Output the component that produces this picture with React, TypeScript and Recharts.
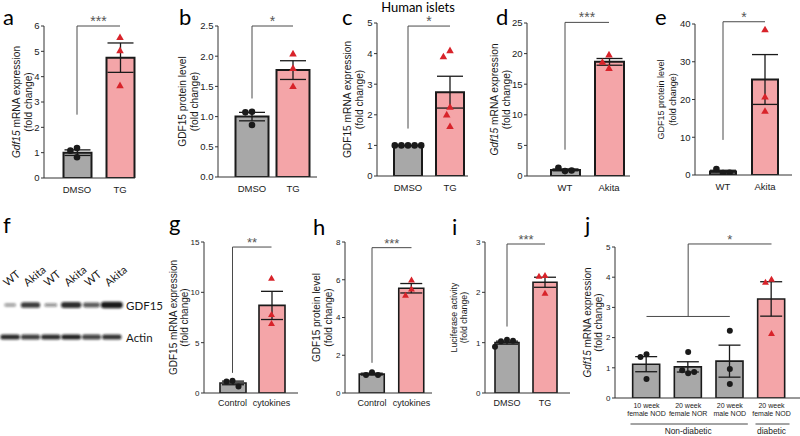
import React from 'react';
import {
  ComposedChart,
  ScatterChart,
  Bar,
  Cell,
  Scatter,
  XAxis,
  YAxis,
  ErrorBar,
  ReferenceLine,
} from 'recharts';

const ARIAL = '"Liberation Sans", Arial, sans-serif';
const CALIBRI = 'Lato, "Liberation Sans", sans-serif';
const GREY = '#a8a8a8';
const PINK = '#f4a5a8';
const RED = '#d8232a';
const INK = '#1a1a1a';

// ---------- data ----------
const aCats = ['DMSO', 'TG'];
const aMeans = [1.0, 4.75];
const aSems = [0.11, 0.58];
const aPoints = [[1.18, 1.08, 0.82], [5.55, 5.03, 3.65]];
const aTicks = [0, 1, 2, 3, 4, 5, 6];

const bCats = ['DMSO', 'TG'];
const bMeans = [1.0, 1.77];
const bSems = [0.07, 0.155];
const bPoints = [[1.08, 1.07, 0.86], [2.04, 1.8, 1.5]];
const bTicks = [0, 0.5, 1, 1.5, 2, 2.5];

const cCats = ['DMSO', 'TG'];
const cMeans = [1.0, 2.74];
const cSems = [0, 0.52];
const cPoints = [[1, 1, 1, 1, 1], [4.1, 3.9, 2.25, 2.0, 1.62]];
const cTicks = [0, 1, 2, 3, 4, 5];

const dCats = ['WT', 'Akita'];
const dMeans = [1.0, 18.65];
const dSems = [0.15, 0.55];
const dPoints = [[0.8, 1.35, 0.9], [19.8, 18.6, 17.6]];
const dTicks = [0, 5, 10, 15, 20, 25];

const eCats = ['WT', 'Akita'];
const eMeans = [0.9, 25.3];
const eSems = [0.35, 6.6];
const ePoints = [[0.5, 1.6, 0.6], [38.5, 20.7, 16.9]];
const eTicks = [0, 10, 20, 30, 40];

const fLanes = ['WT', 'Akita', 'WT', 'Akita', 'WT', 'Akita'];
const fBands = ['GDF15', 'Actin'];
const fGdf15 = [0.22, 0.8, 0.3, 0.88, 0.62, 1.0];
const fActin = [0.9, 0.78, 0.88, 0.95, 0.75, 0.85];

const gCats = ['Control', 'cytokines'];
const gMeans = [1.0, 8.7];
const gSems = [0.18, 1.4];
const gPoints = [[1.22, 1.15, 0.65], [11.4, 7.8, 6.9]];
const gTicks = [0, 5, 10, 15];

const hCats = ['Control', 'cytokines'];
const hMeans = [1.0, 5.55];
const hSems = [0.05, 0.25];
const hPoints = [[1.1, 0.95, 0.95], [5.98, 5.5, 5.18]];
const hTicks = [0, 2, 4, 6, 8];

const iCats = ['DMSO', 'TG'];
const iMeans = [1.0, 2.2];
const iSems = [0.03, 0.1];
const iPoints = [[1.06, 1.03, 1.04, 0.92], [2.33, 2.32, 1.98]];
const iTicks = [0, 1, 2, 3];

const jCats = ['10 week female NOD', '20 week female NOR', '20 week male NOD', '20 week female NOD'];
const jGroups = ['Non-diabetic', 'Non-diabetic', 'Non-diabetic', 'diabetic'];
const jMeans = [1.12, 1.03, 1.22, 3.28];
const jSems = [0.25, 0.17, 0.53, 0.57];
const jPoints = [[1.45, 1.36, 0.63], [1.52, 0.82, 0.92, 0.86], [2.23, 0.96, 0.46], [3.93, 3.83, 2.13]];
const jTicks = [0, 1, 2, 3, 4, 5];

// significance: bracket height, drop of the left leg, categories joined
const aSig = { text: '***', y: 6.0, drop: 2.5, from: 0, to: 1 };
const bSig = { text: '*', y: 2.5, drop: 1.3, from: 0, to: 1 };
const cSig = { text: '*', y: 4.9, drop: 1.55, from: 0, to: 1 };
const dSig = { text: '***', y: 25.1, drop: 4.3, from: 0, to: 1 };
const eSig = { text: '*', y: 40.6, drop: 9.3, from: 0, to: 1 };
const gSig = { text: '**', y: 14.5, drop: 2.0, from: 0, to: 1 };
const hSig = { text: '***', y: 7.7, drop: 1.6, from: 0, to: 1 };
const iSig = { text: '***', y: 2.96, drop: 1.32, from: 0, to: 1 };
const jSig = { text: '*', y: 5.1, drop: 2.7, from: 1, to: 3, base: [0, 2] };

// ---------- helpers ----------
type Sig = { text: string; y: number; drop: number; from: number; to: number; base?: number[] };

type Layout = {
  axisX: number;
  yTop: number;
  yBottom: number;
  xEnd: number;
  centers: number[];
  barW: number;
  top: number;
  xh: number;
  labelOff: number[];
  labelFs: number;
  tickFs: number;
  catFs: number;
  catDy: number;
  r: number;
  stroke: number;
  starFs: number;
  cap: number;
};

// beeswarm-like horizontal offsets so markers do not sit on each other
function spread(vals: number[], ppu: number, r: number): number[] {
  const placed: { x: number; y: number }[] = [];
  const step = r;
  return vals.map((v) => {
    const y = v * ppu;
    let x = 0;
    for (const k of [0, -1, 1, -2, 2, -3, 3, -4, 4]) {
      const c = k * step;
      const hit = placed.some((p) => ((p.x - c) / (2 * r)) ** 2 + ((p.y - y) / (2.6 * r)) ** 2 < 1);
      if (!hit) {
        x = c;
        break;
      }
    }
    placed.push({ x, y });
    return x;
  });
}

const Marker = (props: any) => {
  const { cx, cy, payload, k, r } = props;
  if (!Number.isFinite(cx) || !Number.isFinite(cy) || payload['p' + k] === undefined) return <g />;
  const x = cx + (payload['o' + k] || 0);
  if (payload.mk === 'tri') {
    const pts = `${x},${cy - r * 1.2} ${x - r * 1.15},${cy + r * 0.8} ${x + r * 1.15},${cy + r * 0.8}`;
    return <polygon points={pts} fill={RED} />;
  }
  return <circle cx={x} cy={cy} r={r} fill={INK} />;
};

interface PanelProps {
  cats: string[];
  means: number[];
  sems: number[];
  points: number[][];
  ticks: number[];
  markers: string[];
  sig: Sig;
  ylabel: string[];
  italic?: string;
  L: Layout;
  decimals?: number;
  groups?: string[];
}

function BarPanel({ cats, means, sems, points, ticks, markers, sig, ylabel, italic, L, decimals = 0, groups }: PanelProps) {
  const YW = 60;
  const left = L.axisX - YW;
  const width = L.xEnd - left + 6;
  const height = L.yBottom - L.top + L.xh;
  const yMax = ticks[ticks.length - 1];
  const ppu = (L.yBottom - L.yTop) / yMax;
  const n = cats.length;
  const sp = (L.centers[n - 1] - L.centers[0]) / (n - 1);
  const padL = L.centers[0] - sp / 2 - L.axisX;
  const padR = L.xEnd - (L.centers[n - 1] + sp / 2);

  const rows = cats.map((c, i) => {
    const offs = spread(points[i], ppu, L.r);
    const row: any = { name: c, mean: means[i], sem: sems[i], mk: markers[i] };
    points[i].forEach((v, k) => {
      row['p' + k] = v;
      row['o' + k] = offs[k];
    });
    return row;
  });
  const maxPts = Math.max(...points.map((p) => p.length));
  const midY = (L.yTop + L.yBottom) / 2 - L.top;

  const catTick = (p: any) => {
    const { x, y, payload, index } = p;
    if (!groups) {
      return (
        <text x={x} y={y + L.catDy} textAnchor="middle" fontSize={L.catFs} fontFamily={ARIAL} fill={INK}>
          {payload.value}
        </text>
      );
    }
    const words = String(payload.value).split(' ');
    const g = groups[index];
    const first = groups.indexOf(g);
    const last = groups.lastIndexOf(g);
    const mid = (first + last) / 2;
    return (
      <g>
        <text x={x} y={y + 10} textAnchor="middle" fontSize={L.catFs} fontFamily={ARIAL} fill={INK}>
          {words.slice(0, 2).join(' ')}
        </text>
        <text x={x} y={y + 18} textAnchor="middle" fontSize={L.catFs} fontFamily={ARIAL} fill={INK}>
          {words.slice(2).join(' ')}
        </text>
        {index === first && (
          <line x1={x - 16} x2={x + (last - first) * sp + 18} y1={y + 26} y2={y + 26} stroke="#333" strokeWidth={0.9} />
        )}
        {index === Math.floor(mid) ? (
          <text x={x + (mid - index) * sp} y={y + 36} textAnchor="middle" fontSize={8.4} fontFamily={ARIAL} fill={INK}>
            {g}
          </text>
        ) : null}
      </g>
    );
  };

  const seg = (x1: number, y1: number, x2: number, y2: number, key: string, label?: any) => (
    <ReferenceLine
      key={key}
      segment={[
        { x: cats[x1], y: y1 },
        { x: cats[x2], y: y2 },
      ]}
      stroke="#4a4a4a"
      strokeWidth={1}
      ifOverflow="visible"
      label={label}
    />
  );

  return (
    <div style={{ position: 'absolute', left, top: L.top, width, height }}>
      <ComposedChart
        width={width}
        height={height}
        data={rows}
        margin={{ top: L.yTop - L.top, right: 6, bottom: 0, left: 0 }}
      >
        <XAxis
          dataKey="name"
          padding={{ left: padL, right: padR }}
          tickLine={false}
          tickSize={0}
          tickMargin={0}
          axisLine={{ stroke: '#333', strokeWidth: 1 }}
          height={L.xh}
          interval={0}
          tick={catTick}
        />
        <YAxis
          width={YW}
          domain={[0, yMax]}
          ticks={ticks}
          allowDataOverflow
          tickSize={3}
          tickMargin={1.5}
          axisLine={{ stroke: '#333', strokeWidth: 1 }}
          tickLine={{ stroke: '#333' }}
          tick={{ fontSize: L.tickFs, fill: INK, fontFamily: ARIAL }}
          tickFormatter={(v: number) => v.toFixed(decimals)}
        />
        <Bar dataKey="mean" barSize={L.barW} stroke={INK} strokeWidth={L.stroke} isAnimationActive={false}>
          {rows.map((r, i) => (
            <Cell key={i} fill={r.mk === 'tri' ? PINK : GREY} />
          ))}
          <ErrorBar dataKey="sem" width={L.cap} stroke={INK} strokeWidth={1.3} direction="y" />
        </Bar>
        {Array.from({ length: maxPts }, (_, k) => (
          <Scatter
            key={k}
            dataKey={'p' + k}
            isAnimationActive={false}
            shape={(p: any) => <Marker {...p} k={k} r={L.r} />}
          />
        ))}
        {seg(sig.from, sig.y, sig.to, sig.y, 'top', {
          value: sig.text,
          position: 'top',
          offset: 0,
          fontSize: L.starFs,
          fill: '#555',
          fontFamily: ARIAL,
        })}
        {seg(sig.from, sig.y, sig.from, sig.drop, 'leg')}
        {sig.base && seg(sig.base[0], sig.drop, sig.base[1], sig.drop, 'base')}
      </ComposedChart>
      <svg width={YW} height={height} style={{ position: 'absolute', left: 0, top: 0, pointerEvents: 'none' }}>
        {ylabel.map((ln, i) => {
          const x = YW - L.labelOff[i];
          const it = italic && ln.startsWith(italic);
          return (
            <text
              key={i}
              x={x}
              y={midY}
              transform={`rotate(-90 ${x} ${midY})`}
              textAnchor="middle"
              dominantBaseline="central"
              fontSize={L.labelFs}
              fontFamily={ARIAL}
              fill={INK}
            >
              {it ? (
                <>
                  <tspan fontStyle="italic">{italic}</tspan>
                  <tspan>{ln.slice(italic!.length)}</tspan>
                </>
              ) : (
                ln
              )}
            </text>
          );
        })}
      </svg>
    </div>
  );
}

const Band = (props: any) => {
  const { cx, cy, payload } = props;
  if (!Number.isFinite(cx) || !Number.isFinite(cy)) return <g />;
  const lv = payload.level;
  const w = payload.row === 1 ? 9 + 13 * lv : 17 + 3 * lv;
  const h = payload.row === 1 ? 2.5 + 4 * lv : 5;
  const id = `blur${payload.row}_${payload.lane}`;
  return (
    <g>
      <defs>
        <filter id={id} x="-50%" y="-150%" width="200%" height="400%">
          <feGaussianBlur stdDeviation="0.9" />
        </filter>
      </defs>
      <rect x={cx - w / 2} y={cy - h / 2} width={w} height={h} rx={h / 2} fill="#111" fillOpacity={0.25 + 0.7 * lv} filter={`url(#${id})`} />
    </g>
  );
};

function BlotPanel() {
  const gdf = fLanes.map((_, i) => ({ lane: i, row: 1, level: fGdf15[i] }));
  const act = fLanes.map((_, i) => ({ lane: i, row: 0, level: fActin[i] }));
  const laneTick = (p: any) => {
    const { x, y, payload } = p;
    const tx = x - 3;
    const ty = y - 2;
    return (
      <text x={tx} y={ty} transform={`rotate(-40 ${tx} ${ty})`} fontSize={11} fontFamily={CALIBRI} fill={INK}>
        {fLanes[payload.value]}
      </text>
    );
  };
  const bandTick = (p: any) => {
    const { x, y, payload } = p;
    return (
      <text x={x + 4} y={y} dominantBaseline="central" fontSize={11.5} fontFamily={CALIBRI} fill={INK}>
        {fBands[fBands.length - 1 - payload.value]}
      </text>
    );
  };
  return (
    <div style={{ position: 'absolute', left: 0, top: 259 }}>
      <ScatterChart width={172} height={94} margin={{ top: 0, right: 0, bottom: 0, left: 0 }}>
        <XAxis
          type="number"
          dataKey="lane"
          orientation="top"
          domain={[-0.5, 5.5]}
          ticks={[0, 1, 2, 3, 4, 5]}
          height={30}
          axisLine={false}
          tickLine={false}
          tickSize={0}
          tickMargin={0}
          interval={0}
          tick={laneTick}
        />
        <YAxis
          type="number"
          dataKey="row"
          orientation="right"
          domain={[-0.5, 1.5]}
          ticks={[0, 1]}
          width={50}
          axisLine={false}
          tickLine={false}
          tickSize={0}
          tickMargin={0}
          tick={bandTick}
        />
        <Scatter data={gdf} isAnimationActive={false} shape={Band} />
        <Scatter data={act} isAnimationActive={false} shape={Band} />
      </ScatterChart>
    </div>
  );
}

// ---------- layouts ----------
const top = (o: Partial<Layout>): Layout => ({
  axisX: 0,
  yTop: 0,
  yBottom: 0,
  xEnd: 0,
  centers: [],
  barW: 28,
  top: 0,
  xh: 22,
  labelOff: [23, 10],
  labelFs: 10.2,
  tickFs: 9.5,
  catFs: 9.5,
  catDy: 15,
  r: 3.3,
  stroke: 2,
  starFs: 14,
  cap: 13,
  ...o,
});
const bottom = (o: Partial<Layout>): Layout =>
  top({ top: 205, xh: 20, labelFs: 10, tickFs: 8, catFs: 9, catDy: 13, r: 3, stroke: 1.6, starFs: 13, cap: 11, ...o });

const LA = top({ axisX: 44, yTop: 26, yBottom: 178, xEnd: 135, centers: [77, 120], barW: 28, labelOff: [28, 16] });
const LB = top({ axisX: 218, yTop: 26, yBottom: 177, xEnd: 317, centers: [252, 293], barW: 33, labelOff: [36, 24] });
const LC = top({ axisX: 377, yTop: 23, yBottom: 176, xEnd: 468, centers: [408, 450], barW: 28, labelOff: [30, 18] });
const LD = top({ axisX: 527, yTop: 23, yBottom: 176, xEnd: 630, centers: [565, 609], barW: 29, labelOff: [33, 21] });
const LE = top({ axisX: 695, yTop: 24, yBottom: 175, xEnd: 792, centers: [723, 765], barW: 26, labelOff: [34, 22], labelFs: 9 });
const LG = bottom({ axisX: 204, yTop: 242, yBottom: 393, xEnd: 298, centers: [232.5, 271.5], barW: 26, labelOff: [31, 20] });
const LH = bottom({ axisX: 345, yTop: 242, yBottom: 393, xEnd: 432, centers: [372, 411.5], barW: 25, labelOff: [29, 17] });
const LI = bottom({ axisX: 485, yTop: 242, yBottom: 393, xEnd: 570, centers: [507, 545], barW: 24, labelOff: [31, 21], labelFs: 8.8 });
const LJ = bottom({
  axisX: 615,
  yTop: 247,
  yBottom: 398,
  xEnd: 800,
  centers: [646.5, 688.5, 730, 771.5],
  barW: 27,
  labelOff: [28, 17],
  xh: 40,
  catFs: 7,
});

const letters = [
  ['a', 3, 25],
  ['b', 179, 25],
  ['c', 342, 25],
  ['d', 496, 25],
  ['e', 655, 25],
  ['f', 3, 233],
  ['g', 169, 231],
  ['h', 313, 235],
  ['i', 452, 235],
  ['j', 585, 233],
] as const;

export default function App() {
  const cd = ['dot', 'tri'];
  return (
    <div
      style={{
        position: 'absolute',
        left: 0,
        top: 0,
        width: 800,
        height: 436,
        background: '#fff',
        overflow: 'hidden',
        fontFamily: ARIAL,
      }}
    >
      <BarPanel cats={aCats} means={aMeans} sems={aSems} points={aPoints} ticks={aTicks} markers={cd} sig={aSig}
        ylabel={['Gdf15 mRNA expression', '(fold change)']} italic="Gdf15" L={LA} />
      <BarPanel cats={bCats} means={bMeans} sems={bSems} points={bPoints} ticks={bTicks} markers={cd} sig={bSig}
        ylabel={['GDF15 protein level', '(fold change)']} L={LB} decimals={1} />
      <BarPanel cats={cCats} means={cMeans} sems={cSems} points={cPoints} ticks={cTicks} markers={cd} sig={cSig}
        ylabel={['GDF15 mRNA expression', '(fold change)']} L={LC} />
      <BarPanel cats={dCats} means={dMeans} sems={dSems} points={dPoints} ticks={dTicks} markers={cd} sig={dSig}
        ylabel={['Gdf15 mRNA expression', '(fold change)']} italic="Gdf15" L={LD} />
      <BarPanel cats={eCats} means={eMeans} sems={eSems} points={ePoints} ticks={eTicks} markers={cd} sig={eSig}
        ylabel={['GDF15 protein level', '(fold change)']} L={LE} />
      <BlotPanel />
      <BarPanel cats={gCats} means={gMeans} sems={gSems} points={gPoints} ticks={gTicks} markers={cd} sig={gSig}
        ylabel={['GDF15 mRNA expression', '(fold change)']} L={LG} />
      <BarPanel cats={hCats} means={hMeans} sems={hSems} points={hPoints} ticks={hTicks} markers={cd} sig={hSig}
        ylabel={['GDF15 protein level', '(fold change)']} L={LH} />
      <BarPanel cats={iCats} means={iMeans} sems={iSems} points={iPoints} ticks={iTicks} markers={cd} sig={iSig}
        ylabel={['Luciferase activity', '(fold change)']} L={LI} />
      <BarPanel cats={jCats} means={jMeans} sems={jSems} points={jPoints} ticks={jTicks}
        markers={['dot', 'dot', 'dot', 'tri']} sig={jSig} groups={jGroups}
        ylabel={['Gdf15 mRNA expression', '(fold change)']} italic="Gdf15" L={LJ} />
      <svg width={800} height={436} style={{ position: 'absolute', left: 0, top: 0, pointerEvents: 'none' }}>
        {letters.map(([t, x, y]) => (
          <text key={t} x={x} y={y} fontSize={22} fontFamily={CALIBRI} fill="#000">
            {t}
          </text>
        ))}
        <text x={418} y={11.5} textAnchor="middle" fontSize={13} fontFamily={CALIBRI} fill="#000">
          Human islets
        </text>
      </svg>
    </div>
  );
}
